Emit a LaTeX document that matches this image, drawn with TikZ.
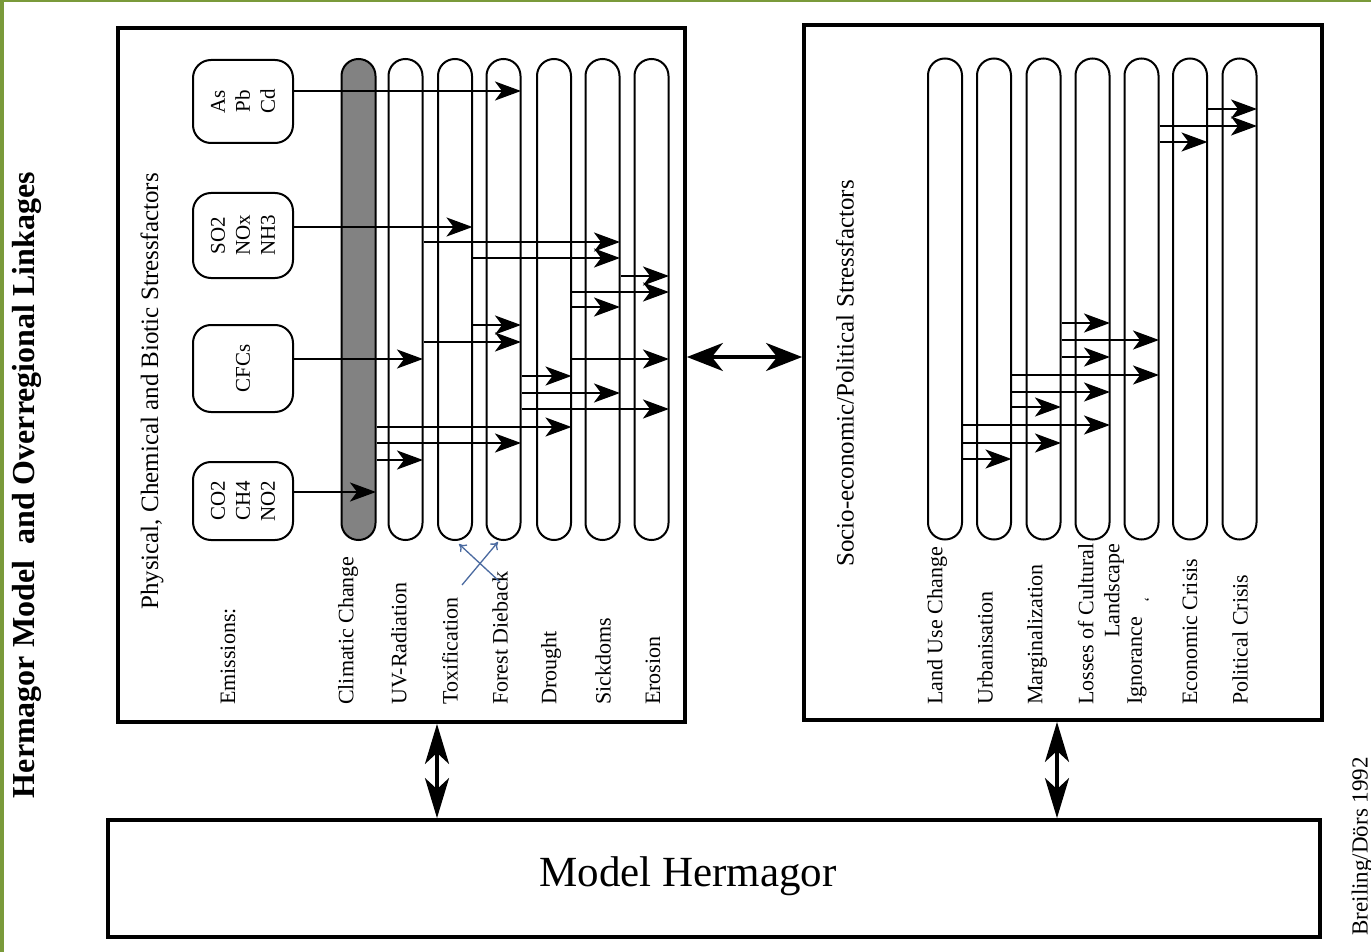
\documentclass[tikz,border=0pt]{standalone}
\usepackage{fontspec}
\setmainfont{Liberation Serif}
\usetikzlibrary{arrows.meta}
\definecolor{frameGreen}{RGB}{122,154,58}
\definecolor{inkBlue}{RGB}{74,106,160}
\definecolor{shadeGray}{RGB}{130,130,130}
\newcommand\lnk[3]{\draw[arr] (#1.east |- 0,#3) -- (#2.east |- 0,#3);}
\begin{document}
\begin{tikzpicture}[x=1pt,y=-1pt,
  frame/.style={draw, line width=3.8pt, rectangle, inner sep=0pt},
  pill/.style={draw, line width=2pt, rectangle, rounded corners=16.9pt, minimum width=34pt, minimum height=481pt, inner sep=0pt},
  ebox/.style={draw, line width=2pt, rectangle, rounded corners=18pt, minimum width=100pt, inner sep=0pt},
  etext/.style={rotate=90, align=center, font=\fontsize{21}{25}\selectfont},
  lab/.style={rotate=90, anchor=west, inner sep=0pt, font=\fontsize{22}{26}\selectfont},
  ttl/.style={rotate=90, inner sep=0pt, font=\fontsize{25}{30}\selectfont},
  arr/.style={line width=2pt, shorten >=0.5pt, -{Stealth[length=26pt,width=19pt,inset=7pt]}},
  dblv/.style={line width=3.5pt, {Stealth[length=40pt,width=24pt,inset=11pt]}-{Stealth[length=40pt,width=24pt,inset=11pt]}},
  dblh/.style={line width=3.5pt, {Stealth[length=36pt,width=28pt,inset=11pt]}-{Stealth[length=36pt,width=28pt,inset=11pt]}},
  note/.style={draw=inkBlue, line width=1.3pt, -{To[length=7pt,width=10pt]}}
]
\useasboundingbox (0,0) rectangle (1371,952);
\fill[white] (0,0) rectangle (1371,952);
\fill[frameGreen] (0,0) rectangle (3.5,952);
\fill[frameGreen] (0,0) rectangle (1371,2.5);

% main title
\node[rotate=90, inner sep=0pt, font=\bfseries\fontsize{32}{36}\selectfont] (title) at (27,485) {Hermagor Model \ and Overregional Linkages};

% frames
\node[frame, minimum width=567pt, minimum height=694pt] (lbox) at (401.5,375) {};
\node[frame, minimum width=518pt, minimum height=695pt] (rbox) at (1063,372.5) {};
\node[frame, minimum width=1212pt, minimum height=117pt] (mbox) at (714,878.5) {};
\node[font=\fontsize{43}{48}\selectfont] (mtext) at (688,876) {Model Hermagor};

% section titles
\node[ttl] (lttl) at (152,391.5) {Physical, Chemical and Biotic Stressfactors};
\node[ttl] (rttl) at (845,373.5) {Socio-economic/Political Stressfactors};
\node[lab] (emis) at (228,705) {Emissions:};

% emission boxes
\node[ebox, minimum height=83pt] (as) at (243,101.5) {};
\node[etext] at (as) {As\\Pb\\Cd};
\node[ebox, minimum height=85pt] (so2) at (243,235.5) {};
\node[etext] at (so2) {SO2\\NOx\\NH3};
\node[ebox, minimum height=87pt] (cfc) at (243,368.5) {};
\node[etext] at (cfc) {CFCs};
\node[ebox, minimum height=78pt] (co2) at (243,501) {};
\node[etext] at (co2) {CO2\\CH4\\NO2};

% left columns
\node[pill, fill=shadeGray] (c1) at (358.5,299.5) {};
\node[pill] (c2) at (405.5,299.5) {};
\node[pill] (c3) at (455,299.5) {};
\node[pill] (c4) at (503.5,299.5) {};
\node[pill] (c5) at (554,299.5) {};
\node[pill] (c6) at (602.5,299.5) {};
\node[pill] (c7) at (651.5,299.5) {};

% right columns
\node[pill] (s1) at (945,299) {};
\node[pill] (s2) at (994,299) {};
\node[pill] (s3) at (1043.5,299) {};
\node[pill] (s4) at (1092.5,299) {};
\node[pill] (s5) at (1141.5,299) {};
\node[pill] (s6) at (1190,299) {};
\node[pill] (s7) at (1239.5,299) {};

% left labels
\node[lab] (l1) at (348,705) {Climatic Change};
\node[lab] (l2) at (399,705) {UV-Radiation};
\node[lab] (l3) at (450,705) {Toxification};
\node[lab] (l4) at (500,705) {Forest Dieback};
\node[lab] (l5) at (551,705) {Drought};
\node[lab] (l6) at (603,705) {Sickdoms};
\node[lab] (l7) at (653,705) {Erosion};

% right labels
\node[lab] (r1) at (937,705) {Land Use Change};
\node[lab] (r2) at (985,705) {Urbanisation};
\node[lab] (r3) at (1037,705) {Marginalization};
\node[lab, align=right] (r4) at (1101,705) {Losses of Cultural\\Landscape};
\node[lab] (r5) at (1137,705) {Ignorance};
\node[rotate=90, font=\fontsize{16}{18}\selectfont] (mark) at (1150,600) {‘};
\node[lab] (r6) at (1190,705) {Economic Crisis};
\node[lab] (r7) at (1240,705) {Political Crisis};

% left arrows
\lnk{as}{c4}{91}
\lnk{so2}{c3}{227}
\lnk{c2}{c6}{242}
\lnk{c3}{c6}{258}
\lnk{c6}{c7}{276}
\lnk{c5}{c7}{292}
\lnk{c5}{c6}{307}
\lnk{c3}{c4}{325}
\lnk{c2}{c4}{342}
\lnk{cfc}{c2}{359}
\lnk{c5}{c7}{359}
\lnk{c4}{c5}{376}
\lnk{c4}{c6}{393}
\lnk{c4}{c7}{409}
\lnk{c1}{c5}{427}
\lnk{c1}{c4}{443}
\lnk{c1}{c2}{460}
\lnk{co2}{c1}{492}

% right arrows
\lnk{s6}{s7}{109}
\lnk{s5}{s7}{126}
\lnk{s5}{s6}{142}
\lnk{s3}{s4}{323}
\lnk{s3}{s5}{340}
\lnk{s3}{s4}{357}
\lnk{s2}{s5}{375}
\lnk{s2}{s4}{392}
\lnk{s2}{s3}{407}
\lnk{s1}{s4}{425}
\lnk{s1}{s3}{443}
\lnk{s1}{s2}{459}

% double arrows
\draw[dblh] (lbox.east |- 0,357) -- (rbox.west |- 0,357);
\draw[dblv] (lbox.south -| 437,0) -- (mbox.north -| 437,0);
\draw[dblv] (rbox.south -| 1057,0) -- (mbox.north -| 1057,0);

% handwritten swap mark
\coordinate (n1a) at (500,582);
\coordinate (n1b) at (459,544);
\coordinate (n2a) at (462,585);
\coordinate (n2b) at (498,542);
\draw[note] (n1a) -- (n1b);
\draw[note] (n2a) -- (n2b);

% credit
\node[rotate=90, anchor=east, inner sep=0pt, font=\fontsize{23}{25}\selectfont] (credit) at (1362,757) {Breiling/Dörs 1992};
\end{tikzpicture}
\end{document}
